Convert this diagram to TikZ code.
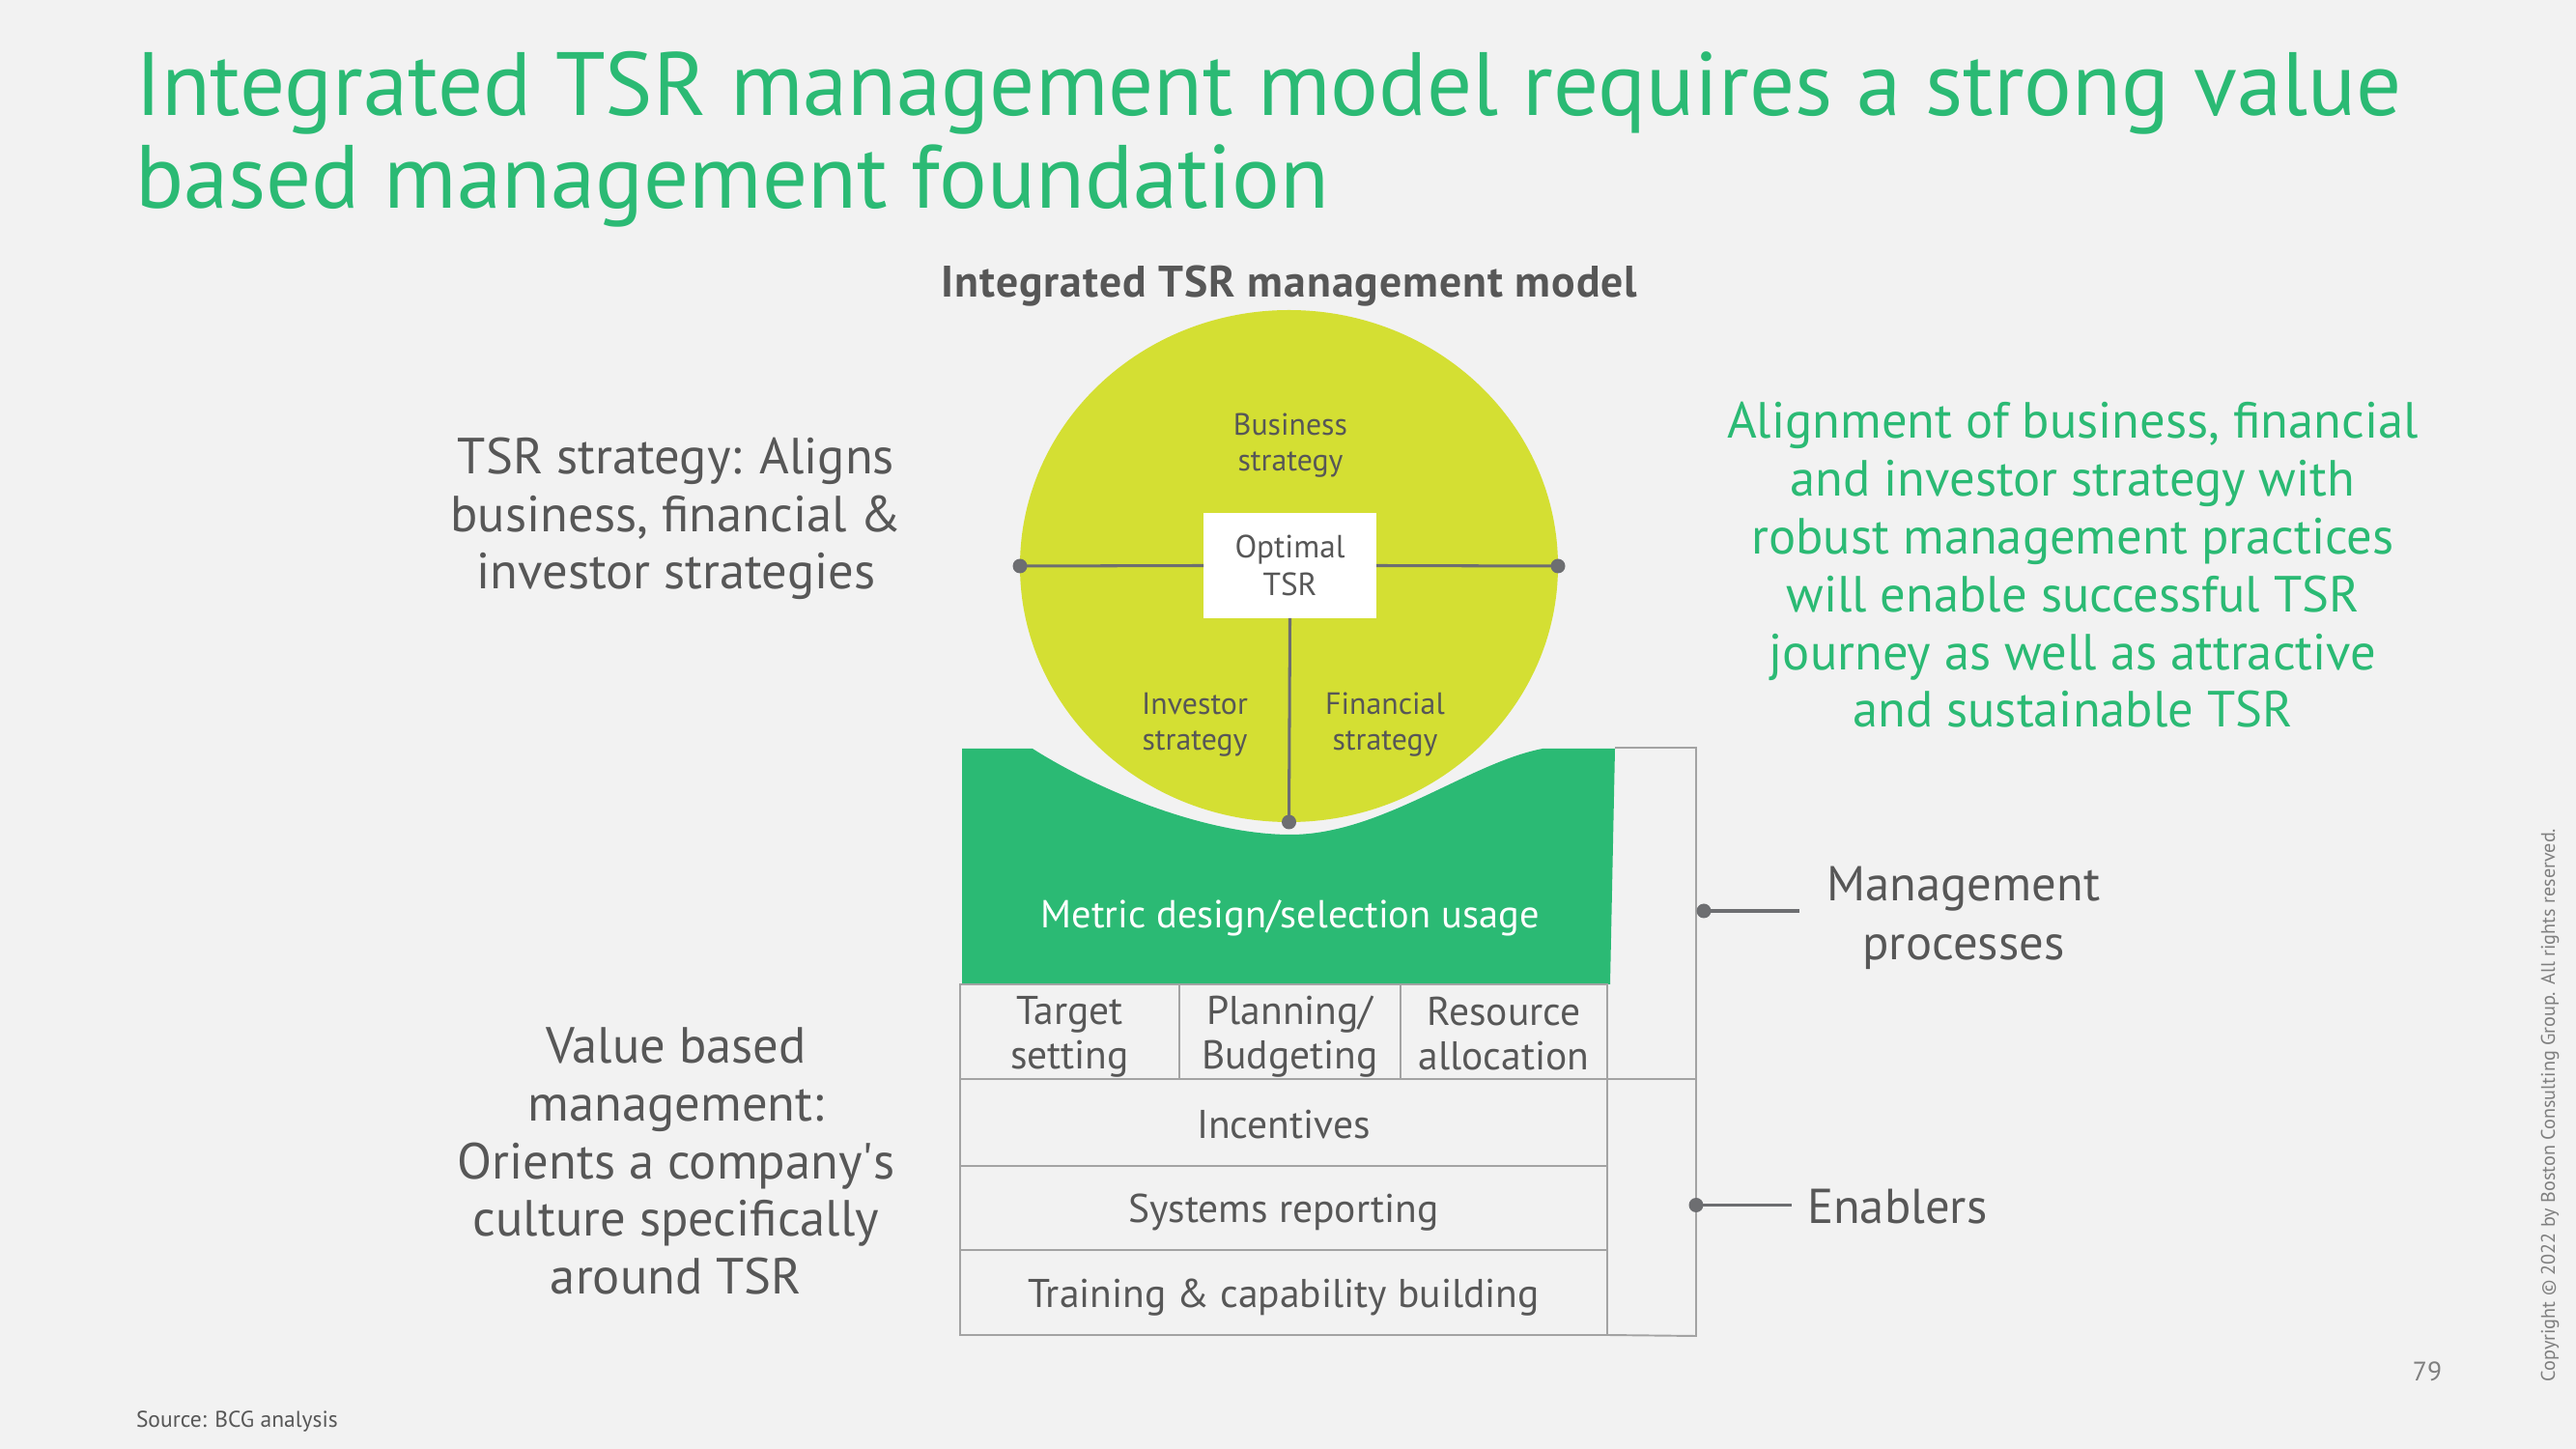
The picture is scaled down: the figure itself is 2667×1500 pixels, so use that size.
\documentclass[tikz,border=0pt]{standalone}
\usepackage{fontspec}
\setmainfont{PT Sans}
\usetikzlibrary{shapes.geometric}
\definecolor{pagebg}{HTML}{F2F2F2}
\definecolor{bcggreen}{HTML}{2BBA74}
\definecolor{lime}{HTML}{D4DF33}
\definecolor{txtgray}{HTML}{575757}
\definecolor{linegray}{HTML}{6D6E71}
\definecolor{boxgray}{HTML}{A3A3A3}
\definecolor{numgray}{HTML}{7F7F7F}
\newlength\px
\setlength\px{0.0127cm}
\begin{document}
\begin{tikzpicture}[x=0.0127cm, y=-0.0127cm,
  every node/.style={inner sep=0pt, outer sep=0pt, text=txtgray},
  fsz/.style 2 args={font=\fontsize{#1}{#2}\selectfont},
  cell/.style={draw=boxgray, line width=0.7pt},
  celltext/.style={align=center, fsz={15pt}{16.7pt}, yshift=-5\px},
  dot/.style={circle, fill=linegray, minimum size=15\px},
  conn/.style={draw=linegray, line width=1.2pt},
  bracket/.style={draw=boxgray, line width=0.7pt},
]
% page
\fill[pagebg] (0,0) rectangle (2667,1500);
\useasboundingbox (0,0) rectangle (2667,1500);

% heading
\node[anchor=base west, text=bcggreen, fsz={33.6pt}{34pt}] (title1) at (140,120)
  {Integrated TSR management model requires a strong value};
\node[anchor=base west, text=bcggreen, fsz={33.6pt}{34pt}] (title2) at (140,216)
  {based management foundation};
\node[anchor=base, font=\bfseries\fontsize{16.5pt}{18pt}\selectfont\addfontfeature{LetterSpace=2.2}] (sub) at (1335,308)
  {Integrated TSR management model};

% the TSR globe
\node[ellipse, fill=lime, minimum width=557\px, minimum height=530\px] (globe) at (1334.5,586) {};
\node[fill=white, minimum width=179\px, minimum height=109\px, align=center, fsz={12pt}{14.2pt}] (tsr) at (1335.5,585.5) {Optimal\\TSR};
\node[dot] (dleft) at (globe.west) {};
\node[dot] (dright) at (globe.east) {};
\node[dot] (dbottom) at (globe.south) {};
\draw[conn, line width=1.1pt] (dleft.center) -- (tsr.west);
\draw[conn, line width=1.1pt] (tsr.east) -- (dright.center);
\draw[conn, line width=1.1pt] (tsr.south) -- (dbottom.center);
\node[align=center, fsz={11.5pt}{13.3pt}] (bus) at (1336,461) {Business\\strategy};
\node[align=center, fsz={11.5pt}{13.3pt}] (inv) at (1237,750) {Investor\\strategy};
\node[align=center, fsz={11.5pt}{13.3pt}] (fin) at (1434,750) {Financial\\strategy};

% metric cradle
\fill[bcggreen] (996,775) -- (1069,775)
  .. controls (1140,820) and (1250,864) .. (1336,864)
  .. controls (1430,864) and (1520,790) .. (1597,775)
  -- (1672,775) -- (1667,1019) -- (996,1019) -- cycle;
\node[text=white, fsz={14.6pt}{17pt}] (metric) at (1335.6,950) {Metric design/selection usage};

% process and enabler rows
\node[cell, minimum width=227\px, minimum height=98\px, label={[celltext]center:Target\\setting}] (target) at (1107.5,1068) {};
\node[cell, minimum width=229\px, minimum height=98\px, label={[celltext]center:Planning/\\Budgeting}] (plan) at (1335.5,1068) {};
\node[cell, minimum width=214\px, minimum height=98\px, label={[celltext, yshift=3\px]center:Resource\\allocation}] (res) at (1557,1068) {};
\node[cell, minimum width=670\px, minimum height=90\px, label={[celltext, yshift=3\px]center:Incentives}] (inc) at (1329,1162) {};
\node[cell, minimum width=670\px, minimum height=87\px, label={[celltext]center:Systems reporting}] (sys) at (1329,1250.5) {};
\node[cell, minimum width=670\px, minimum height=88\px, label={[celltext]center:Training \& capability building}] (train) at (1329,1338) {};

% brackets
\coordinate (btl) at (1672,774);
\coordinate (btr) at (1756,774);
\coordinate (bmr) at (1756,1117);
\coordinate (bbr) at (1756,1383);
\draw[bracket] (btl) -- (btr) -- (bbr) -- (train.south east);
\draw[bracket] (inc.north east) -- (bmr);

% bracket labels
\node[dot] (mdot) at (1764,943) {};
\coordinate (mend) at (1863,943);
\draw[conn] (mdot.center) -- (mend);
\node[align=center, fsz={18.3pt}{22.1pt}] (mgmt) at (2033,950) {Management\\processes};
\node[dot] (edot) at (1756,1247.5) {};
\coordinate (eend) at (1855,1247.5);
\draw[conn] (edot.center) -- (eend);
\node[anchor=base west, fsz={18.3pt}{22.1pt}] (enab) at (1871,1267) {Enablers};

% side texts
\node[align=center, fsz={19pt}{21.6pt}] (strat) at (700,537) {TSR strategy: Aligns\\business, financial \&\\investor strategies};
\node[align=center, fsz={19pt}{21.6pt}] (vbm) at (700,1202) {Value based\\management:\\Orients a company\textquotesingle s\\culture specifically\\around TSR};
\node[align=center, text=bcggreen, fsz={19pt}{21.6pt}] (align) at (2146,585)
  {Alignment of business, financial\\and investor strategy with\\robust management practices\\will enable successful TSR\\journey as well as attractive\\and sustainable TSR};

% footer
\node[anchor=base west, fsz={8.5pt}{10pt}] (src) at (141,1477) {Source: BCG analysis};
\node[text=numgray, fsz={10pt}{12pt}] (pnum) at (2513,1420) {79};
\node[rotate=90, text=numgray, fsz={7.3pt}{9pt}] (copy) at (2640,1144)
  {Copyright © 2022 by Boston Consulting Group. All rights reserved.};
\end{tikzpicture}
\end{document}
